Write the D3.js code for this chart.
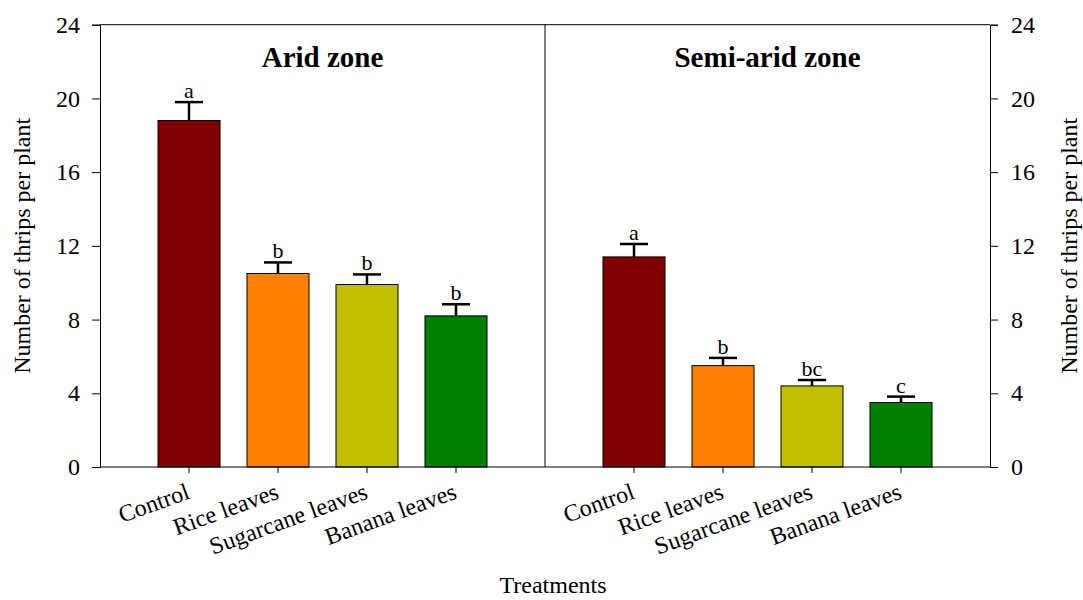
<!DOCTYPE html>
<html><head><meta charset="utf-8">
<script src="https://cdn.jsdelivr.net/npm/d3@7"></script>
<style>body{margin:0;background:#fff}svg{display:block}text{font-family:"Liberation Serif","Times New Roman",serif}</style>
</head><body><svg id="c" width="1083" height="600"></svg>
<script>
const categories = ["Control","Rice leaves","Sugarcane leaves","Banana leaves"];
const colors = ["#800000","#FF8000","#C0C000","#008000"];
const zones = ["Arid zone","Semi-arid zone"];
const aridValues = [18.8,10.5,9.9,8.2];
const aridErrors = [1.0,0.6,0.55,0.63];
const aridLetters = ["a","b","b","b"];
const semiValues = [11.4,5.5,4.4,3.5];
const semiErrors = [0.7,0.42,0.32,0.32];
const semiLetters = ["a","b","bc","c"];
const yTicks = [0,4,8,12,16,20,24];

const svg = d3.select("#c");
const L=100,R=990,T=24.7,B=467,M=545;
const y = d3.scaleLinear().domain([0,24]).range([B,T]);
const panels = [
 {x0:L,x1:M,vals:aridValues,errs:aridErrors,lets:aridLetters,title:zones[0]},
 {x0:M,x1:R,vals:semiValues,errs:semiErrors,lets:semiLetters,title:zones[1]}
];
const bw = 62;
panels.forEach(p=>{
  const x = d3.scaleLinear().domain([0,5]).range([p.x0,p.x1]);
  const g = svg.append("g");
  g.selectAll("rect").data(p.vals).join("rect")
   .attr("x",(d,i)=>x(i+1)-bw/2).attr("width",bw)
   .attr("y",d=>y(d)).attr("height",d=>B-y(d))
   .attr("fill",(d,i)=>colors[i]).attr("stroke","#000").attr("stroke-width",1);
  p.vals.forEach((v,i)=>{
    const cx=x(i+1), top=y(v+p.errs[i]);
    g.append("line").attr("x1",cx).attr("x2",cx).attr("y1",y(v)).attr("y2",top).attr("stroke","#000").attr("stroke-width",2.5);
    g.append("line").attr("x1",cx-14).attr("x2",cx+14).attr("y1",top).attr("y2",top).attr("stroke","#000").attr("stroke-width",2.5);
    g.append("text").attr("x",cx).attr("y",top-4).attr("text-anchor","middle").attr("font-size",22).text(p.lets[i]);
    g.append("line").attr("x1",cx).attr("x2",cx).attr("y1",B).attr("y2",B+6).attr("stroke","#000");
    g.append("text").attr("text-anchor","end").attr("font-size",24)
     .attr("transform",`translate(${cx+2},${B+31}) rotate(-20)`).text(categories[i]);
  });
  svg.append("text").attr("x",(p.x0+p.x1)/2).attr("y",67).attr("text-anchor","middle")
   .attr("font-size",29).attr("font-weight","bold").text(p.title);
});
// frame
svg.append("line").attr("x1",L).attr("x2",R).attr("y1",T).attr("y2",T).attr("stroke","#000");
svg.append("line").attr("x1",L).attr("x2",R).attr("y1",B).attr("y2",B).attr("stroke","#000");
svg.append("line").attr("x1",M).attr("x2",M).attr("y1",T).attr("y2",B).attr("stroke","#000");
const la = svg.append("g").attr("transform",`translate(${L},0)`).call(d3.axisLeft(y).tickValues(yTicks).tickSize(8).tickPadding(12));
const ra = svg.append("g").attr("transform",`translate(${R},0)`).call(d3.axisRight(y).tickValues(yTicks).tickSize(8).tickPadding(13));
[la,ra].forEach(a=>{a.attr("font-family",null);a.select(".domain").attr("stroke","#000");a.selectAll("line").attr("stroke","#000");a.selectAll("text").attr("font-size",24).attr("fill","#000").style("font-family","'Liberation Serif',serif");});
svg.append("text").attr("transform",`translate(30,${(T+B)/2}) rotate(-90)`).attr("text-anchor","middle").attr("font-size",24).text("Number of thrips per plant");
svg.append("text").attr("transform",`translate(1077,${(T+B)/2}) rotate(-90)`).attr("text-anchor","middle").attr("font-size",24).text("Number of thrips per plant");
svg.append("text").attr("x",553).attr("y",593).attr("text-anchor","middle").attr("font-size",24).text("Treatments");
</script></body></html>
